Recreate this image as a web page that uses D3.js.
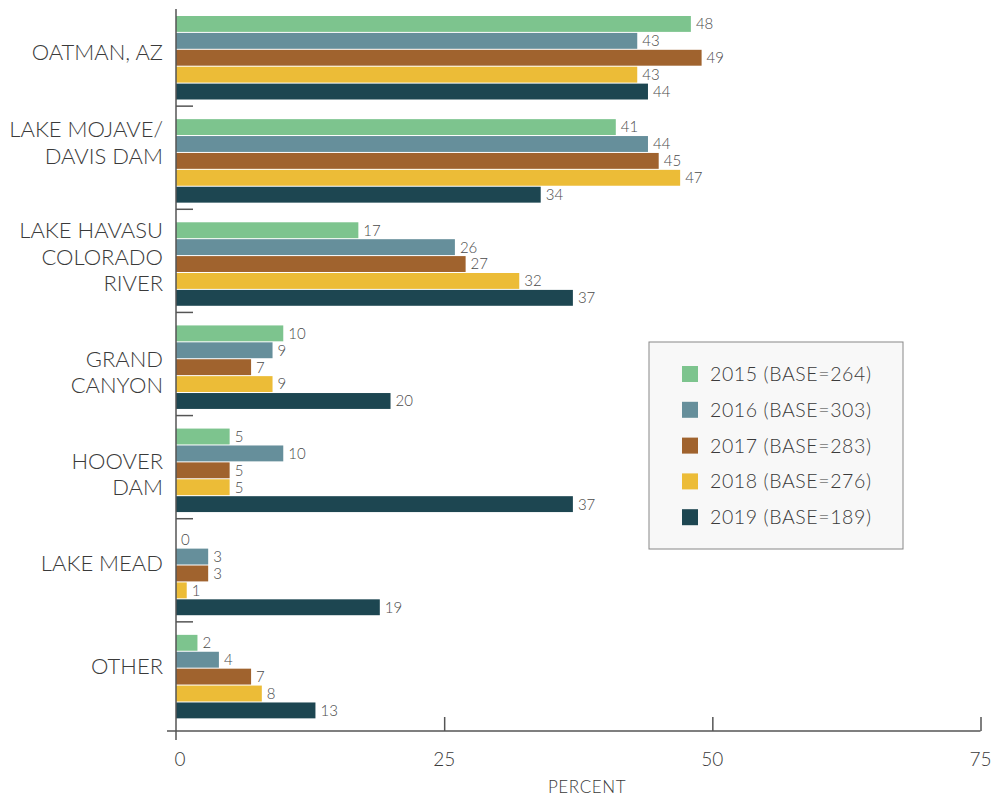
<!DOCTYPE html>
<html>
<head>
<meta charset="utf-8">
<script src="https://cdn.jsdelivr.net/npm/d3@7"></script>
<style>
  html, body { margin: 0; padding: 0; background: #fff; }
  svg { display: block; font-family: Lato, "Noto Sans", sans-serif; font-weight: 300; }
</style>
</head>
<body>
<svg id="chart" width="995" height="797"></svg>
<script>
// Destinations visited, percent of respondents by survey year
const categories = ["OATMAN, AZ", "LAKE MOJAVE/\nDAVIS DAM", "LAKE HAVASU\nCOLORADO\nRIVER", "GRAND\nCANYON", "HOOVER\nDAM", "LAKE MEAD", "OTHER"];
const years = ["2015", "2016", "2017", "2018", "2019"];
const bases = [264, 303, 283, 276, 189];
const values2015 = [48, 41, 17, 10, 5, 0, 2];
const values2016 = [43, 44, 26, 9, 10, 3, 4];
const values2017 = [49, 45, 27, 7, 5, 3, 7];
const values2018 = [43, 47, 32, 9, 5, 1, 8];
const values2019 = [44, 34, 37, 20, 37, 19, 13];
const xTicks = [0, 25, 50, 75];
const colors = ["#7dc48e", "#668f9b", "#a0632e", "#ecbc37", "#1d4651"];

const seriesValues = [values2015, values2016, values2017, values2018, values2019];

// Small vertical nudges (px) for the category labels
const labelNudge = [-2, -15, -4, 8, 7, -7, -7];

const svg = d3.select("#chart");
const axisY = 731;

const x = d3.scaleLinear().domain([0, 75]).range([176, 980.5]);
const y0 = d3.scaleBand().domain(categories).range([3, 725]);
const y1 = d3.scaleBand().domain(years).range([13, 96.5]).paddingInner(0.06);
const color = d3.scaleOrdinal().domain(years).range(colors);

const axisColor = "#555";
const textColor = "#3a3a3a";

// Bars
const groups = svg.append("g").selectAll("g")
  .data(categories)
  .join("g")
  .attr("transform", d => `translate(0,${y0(d)})`);

groups.each(function(cat, ci) {
  const g = d3.select(this);
  const rows = years.map((yr, si) => ({ yr, v: seriesValues[si][ci] }));
  g.selectAll("rect")
    .data(rows)
    .join("rect")
    .attr("x", x(0))
    .attr("y", d => y1(d.yr))
    .attr("width", d => x(d.v) - x(0))
    .attr("height", y1.bandwidth())
    .attr("fill", d => color(d.yr));
  g.selectAll("text")
    .data(rows)
    .join("text")
    .attr("x", d => x(d.v) + 5)
    .attr("y", d => y1(d.yr) + y1.bandwidth() / 2)
    .attr("dy", "0.36em")
    .attr("font-size", 15)
    .attr("fill", "#4a4a4a")
    .text(d => d.v);
});

// Category labels
const labels = svg.append("g");
categories.forEach((cat, ci) => {
  const lines = cat.split("\n");
  const lh = 26.5;
  const cy = y0(cat) + y0.bandwidth() / 2 + labelNudge[ci];
  const t = labels.append("text")
    .attr("text-anchor", "end")
    .attr("font-size", 22)
    .attr("fill", textColor);
  lines.forEach((ln, i) => {
    t.append("tspan")
      .attr("x", 163)
      .attr("y", cy + (i - (lines.length - 1) / 2) * lh)
      .attr("dy", "0.36em")
      .text(ln);
  });
});

// Y axis line with category separators
svg.append("line")
  .attr("x1", x(0)).attr("x2", x(0))
  .attr("y1", 9).attr("y2", 740)
  .attr("stroke", axisColor).attr("stroke-width", 1.5);
svg.append("g").selectAll("line")
  .data(categories.slice(1))
  .join("line")
  .attr("x1", x(0)).attr("x2", x(0) + 17)
  .attr("y1", d => y0(d)).attr("y2", d => y0(d))
  .attr("stroke", axisColor).attr("stroke-width", 1.5);

// X axis
svg.append("line")
  .attr("x1", 167).attr("x2", x(75))
  .attr("y1", axisY).attr("y2", axisY)
  .attr("stroke", axisColor).attr("stroke-width", 1.5);
const xAxis = svg.append("g")
  .attr("transform", `translate(0,${axisY})`)
  .call(d3.axisTop(x).tickValues(xTicks.slice(1)).tickSize(14).tickFormat(""));
xAxis.select(".domain").remove();
xAxis.selectAll(".tick line").attr("stroke", axisColor).attr("stroke-width", 1.5);

svg.append("g").selectAll("text")
  .data(xTicks)
  .join("text")
  .attr("x", d => x(d) + (d === 0 ? 4 : 0))
  .attr("y", 759)
  .attr("dy", "0.36em")
  .attr("text-anchor", "middle")
  .attr("font-size", 19)
  .attr("fill", textColor)
  .text(d => d);

svg.append("text")
  .attr("x", 587).attr("y", 787)
  .attr("dy", "0.36em")
  .attr("text-anchor", "middle")
  .attr("font-size", 17)
  .attr("letter-spacing", 0.6)
  .attr("fill", textColor)
  .text("PERCENT");

// Legend
const legend = svg.append("g").attr("transform", "translate(649,342)");
legend.append("rect")
  .attr("width", 254).attr("height", 207)
  .attr("fill", "#f8f8f8").attr("stroke", "#888").attr("stroke-width", 1);
const items = legend.selectAll("g.item")
  .data(years)
  .join("g")
  .attr("class", "item")
  .attr("transform", (d, i) => `translate(0,${32 + i * 35.8})`);
items.append("rect")
  .attr("x", 33).attr("y", -8)
  .attr("width", 16).attr("height", 16)
  .attr("fill", d => color(d));
items.append("text")
  .attr("x", 61).attr("y", 0)
  .attr("dy", "0.36em")
  .attr("font-size", 19.5)
  .attr("letter-spacing", 0.6)
  .attr("fill", textColor)
  .text((d, i) => `${d} (BASE=${bases[i]})`);
</script>
</body>
</html>
